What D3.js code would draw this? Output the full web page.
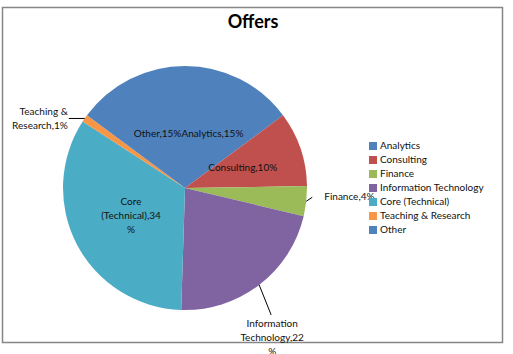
<!DOCTYPE html>
<html>
<head>
<meta charset="utf-8">
<script src="https://cdn.jsdelivr.net/npm/d3@7"></script>
<style>
  body { margin: 0; background: #fff; }
  svg { font-family: Lato, "Liberation Sans", sans-serif; }
</style>
</head>
<body>
<div id="chart"></div>
<script>
// chart values
const categories = ["Analytics", "Consulting", "Finance", "Information Technology",
    "Core (Technical)", "Teaching & Research", "Other"];
const shares = [15, 10, 4, 22, 34, 1, 15];
const colors = ["#4f81bd", "#c0504d", "#9bbb59", "#8064a2", "#4bacc6", "#f79646", "#4f81bd"];
// how Excel wrapped each data label
const labelLines = [
    ["Analytics,15%"],
    ["Consulting,10%"],
    ["Finance,4%"],
    ["Information", "Technology,22", "%"],
    ["Core", "(Technical),34", "%"],
    ["Teaching &", "Research,1%"],
    ["Other,15%"]
];

const width = 513, height = 354;
const cx = 185, cy = 188, r = 122;

const svg = d3.select("#chart")
    .append("svg")
    .attr("width", width)
    .attr("height", height);

// chart frame
svg.append("rect")
    .attr("x", 2.5).attr("y", 7.5)
    .attr("width", 500).attr("height", 335)
    .attr("fill", "#fff")
    .attr("stroke", "#868686")
    .attr("stroke-width", 1.5);

svg.append("text")
    .attr("x", 253).attr("y", 28)
    .attr("text-anchor", "middle")
    .style("font-size", "18px")
    .style("font-weight", "bold")
    .text("Offers");

const pie = d3.pie().sort(null).value(d => d)(shares);
const arc = d3.arc().innerRadius(0).outerRadius(r);
const labelArc = d3.arc().innerRadius(0).outerRadius(r);

const g = svg.append("g").attr("transform", `translate(${cx},${cy})`);

g.selectAll("path.slice")
    .data(pie)
    .join("path")
    .attr("class", "slice")
    .attr("d", arc)
    .attr("fill", (d, i) => colors[i]);

// outside labels: leader line end and text offset from the slice edge
const place = {
    2: { line: [6, -4], text: [18, -4], anchor: "start" },
    3: { line: [12, 30], text: [13, 39], anchor: "middle" },
    5: { line: [-16, 0], text: [-17, -6], anchor: "end" }
};

function edge(d) {
    const a = (d.startAngle + d.endAngle) / 2;
    return [Math.sin(a) * r, -Math.cos(a) * r];
}

pie.forEach((d, i) => {
    const lines = labelLines[i];
    const p = place[i];
    let x, y, anchor = "middle";
    if (p) {
        const [ex, ey] = edge(d);
        g.append("line")
            .attr("x1", ex).attr("y1", ey)
            .attr("x2", ex + p.line[0]).attr("y2", ey + p.line[1])
            .attr("stroke", "#000")
            .attr("stroke-width", 1);
        x = ex + p.text[0];
        y = ey + p.text[1];
        anchor = p.anchor;
    } else {
        [x, y] = labelArc.centroid(d);
        y -= (lines.length - 1) * 7;
    }
    const t = g.append("text")
        .attr("text-anchor", anchor)
        .attr("dominant-baseline", "middle")
        .style("font-size", "10px")
        .attr("fill", "#111");
    lines.forEach((s, j) => {
        t.append("tspan").attr("x", x).attr("y", y + j * 14).text(s);
    });
});

// legend
const legend = svg.append("g").attr("transform", "translate(369,142)");
const row = legend.selectAll("g")
    .data(categories)
    .join("g")
    .attr("transform", (d, i) => `translate(0,${i * 14})`);
row.append("rect")
    .attr("width", 8).attr("height", 8)
    .attr("fill", (d, i) => colors[i]);
row.append("text")
    .attr("x", 11).attr("y", 4)
    .attr("dominant-baseline", "middle")
    .style("font-size", "10px")
    .attr("fill", "#111")
    .text(d => d);
</script>
</body>
</html>
